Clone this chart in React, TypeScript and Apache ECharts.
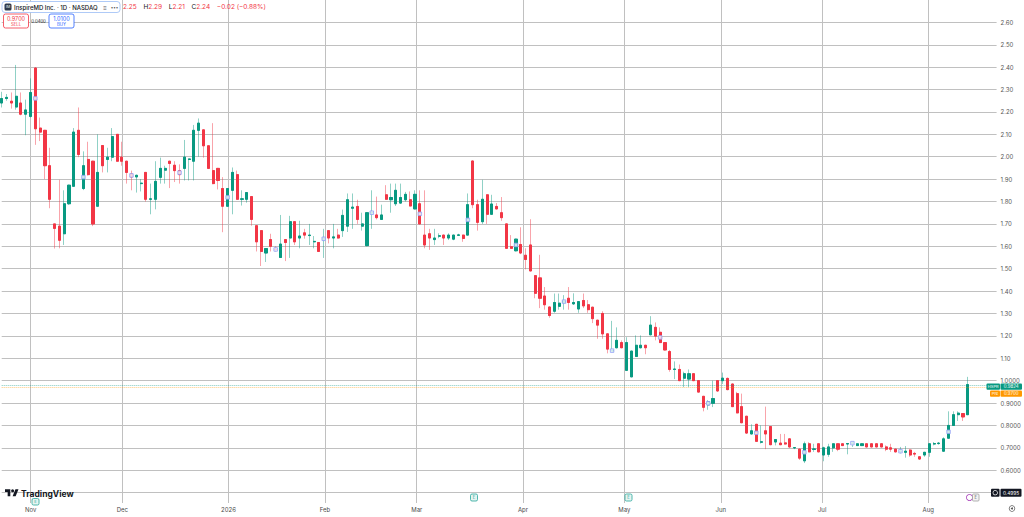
import React, { useEffect, useRef } from "react";
import * as echarts from "echarts";

// month blocks of trading days (the last block is empty space on the right)
const months = ["Oct", "Nov", "Dec", "2026", "Feb", "Mar", "Apr", "May", "Jun", "Jul", "Aug", ""];
const monthBars = [6, 19, 22, 20, 19, 22, 21, 20, 21, 22, 10, 6];

const open = [
  2.24, 2.26, 2.248, 2.222, 2.24, 2.19, 2.18, 2.396, 2.128, 2.118,
  1.96, 1.7, 1.69, 1.656, 1.79, 1.868, 2.118, 1.858, 1.988, 1.98,
  1.779, 2.05, 1.988, 1.998, 2.1, 1.998, 1.98, 1.923, 1.91, 1.88,
  1.93, 1.81, 1.81, 1.908, 1.94, 1.98, 1.962, 1.938, 1.948, 1.988,
  1.98, 2.118, 2.12, 2.049, 1.938, 1.948, 1.858, 1.779, 1.85, 1.92,
  1.81, 1.81, 1.822, 1.692, 1.67, 1.57, 1.63, 1.587, 1.55, 1.63,
  1.637, 1.71, 1.637, 1.66, 1.648, 1.62, 1.617, 1.63, 1.67, 1.637,
  1.65, 1.67, 1.69, 1.77, 1.778, 1.69, 1.603, 1.748, 1.74, 1.72,
  1.83, 1.808, 1.79, 1.793, 1.808, 1.808, 1.767, 1.79, 1.65, 1.656,
  1.63, 1.645, 1.65, 1.637, 1.632, 1.649, 1.65, 1.65, 1.981, 1.786,
  1.71, 1.83, 1.743, 1.778, 1.75, 1.7, 1.598, 1.58, 1.608, 1.56,
  1.606, 1.469, 1.459, 1.378, 1.329, 1.31, 1.332, 1.35, 1.368, 1.343,
  1.32, 1.358, 1.339, 1.328, 1.27, 1.3, 1.209, 1.132, 1.147, 1.17,
  1.046, 1.017, 1.108, 1.147, 1.158, 1.205, 1.238, 1.216, 1.17, 1.13,
  1.05, 1.05, 1.011, 1.007, 1.031, 1.0, 0.93, 0.892, 0.899, 1.0,
  1.0, 1.01, 0.985, 0.942, 0.884, 0.841, 0.762, 0.805, 0.725, 0.776,
  0.795, 0.726, 0.721, 0.722, 0.74, 0.7, 0.694, 0.642, 0.718, 0.693,
  0.718, 0.668, 0.671, 0.7, 0.718, 0.718, 0.717, 0.72, 0.71, 0.71,
  0.718, 0.718, 0.718, 0.718, 0.704, 0.7, 0.694, 0.684, 0.68, 0.69,
  0.675, 0.66, 0.668, 0.68, 0.717, 0.719, 0.685, 0.743, 0.8, 0.848,
  0.853, 0.848,
];

const close = [
  2.26, 2.265, 2.24, 2.27, 2.19, 2.209, 2.287, 2.125, 2.11, 1.96,
  1.81, 1.68, 1.627, 1.79, 1.873, 2.11, 2.01, 1.96, 1.92, 1.7,
  1.93, 1.96, 1.998, 2.09, 1.98, 1.98, 1.93, 1.91, 1.917, 1.882,
  1.81, 1.812, 1.89, 1.948, 1.948, 1.97, 1.938, 1.92, 1.998, 1.99,
  2.118, 2.15, 2.049, 1.948, 1.88, 1.894, 1.779, 1.858, 1.93, 1.81,
  1.812, 1.84, 1.72, 1.62, 1.577, 1.59, 1.6, 1.585, 1.61, 1.617,
  1.71, 1.62, 1.646, 1.65, 1.65, 1.622, 1.577, 1.637, 1.637, 1.642,
  1.637, 1.738, 1.808, 1.775, 1.72, 1.7, 1.75, 1.752, 1.728, 1.74,
  1.81, 1.818, 1.85, 1.818, 1.832, 1.78, 1.832, 1.7, 1.606, 1.637,
  1.637, 1.647, 1.637, 1.65, 1.65, 1.651, 1.635, 1.786, 1.786, 1.707,
  1.81, 1.743, 1.789, 1.767, 1.728, 1.591, 1.591, 1.632, 1.57, 1.541,
  1.49, 1.39, 1.368, 1.339, 1.291, 1.349, 1.346, 1.356, 1.349, 1.349,
  1.353, 1.334, 1.317, 1.277, 1.248, 1.209, 1.141, 1.136, 1.18, 1.147,
  1.17, 1.132, 1.158, 1.158, 1.147, 1.248, 1.199, 1.17, 1.137, 1.05,
  1.052, 1.0, 1.031, 1.031, 1.0, 0.949, 0.881, 0.906, 0.92, 0.954,
  1.011, 0.96, 0.884, 0.856, 0.812, 0.766, 0.776, 0.729, 0.727, 0.762,
  0.714, 0.737, 0.714, 0.717, 0.704, 0.701, 0.654, 0.718, 0.682, 0.695,
  0.682, 0.7, 0.704, 0.718, 0.694, 0.71, 0.719, 0.722, 0.718, 0.718,
  0.704, 0.704, 0.704, 0.704, 0.694, 0.694, 0.682, 0.686, 0.685, 0.668,
  0.672, 0.65, 0.68, 0.718, 0.719, 0.721, 0.74, 0.8, 0.848, 0.855,
  0.838, 0.9824,
];

const low = [
  2.22, 2.25, 2.215, 2.21, 2.185, 2.096, 2.175, 2.053, 2.07, 1.9,
  1.77, 1.59, 1.591, 1.606, 1.785, 1.866, 1.998, 1.851, 1.916, 1.69,
  1.777, 1.93, 1.93, 1.98, 1.978, 1.96, 1.88, 1.85, 1.84, 1.845,
  1.8, 1.743, 1.765, 1.88, 1.88, 1.86, 1.887, 1.88, 1.894, 1.894,
  1.894, 2.0, 1.996, 1.945, 1.877, 1.854, 1.663, 1.777, 1.743, 1.808,
  1.782, 1.795, 1.692, 1.577, 1.512, 1.53, 1.577, 1.577, 1.548, 1.534,
  1.548, 1.606, 1.591, 1.634, 1.606, 1.591, 1.575, 1.548, 1.613, 1.591,
  1.634, 1.642, 1.664, 1.678, 1.7, 1.67, 1.6, 1.678, 1.72, 1.718,
  1.808, 1.75, 1.78, 1.79, 1.8, 1.778, 1.765, 1.698, 1.591, 1.584,
  1.606, 1.636, 1.606, 1.628, 1.627, 1.646, 1.62, 1.648, 1.77, 1.67,
  1.7, 1.7, 1.74, 1.765, 1.714, 1.589, 1.589, 1.577, 1.565, 1.497,
  1.488, 1.368, 1.324, 1.317, 1.281, 1.303, 1.317, 1.317, 1.317, 1.338,
  1.303, 1.324, 1.303, 1.257, 1.187, 1.187, 1.122, 1.13, 1.144, 1.145,
  1.043, 1.015, 1.106, 1.144, 1.118, 1.202, 1.18, 1.168, 1.135, 1.04,
  1.007, 0.998, 0.971, 0.971, 0.998, 0.947, 0.863, 0.87, 0.882, 0.95,
  0.985, 0.957, 0.882, 0.854, 0.81, 0.762, 0.76, 0.727, 0.719, 0.694,
  0.712, 0.711, 0.712, 0.714, 0.7, 0.694, 0.646, 0.632, 0.68, 0.682,
  0.68, 0.64, 0.66, 0.682, 0.685, 0.708, 0.671, 0.704, 0.708, 0.708,
  0.702, 0.702, 0.702, 0.702, 0.685, 0.682, 0.679, 0.675, 0.656, 0.66,
  0.66, 0.646, 0.66, 0.66, 0.711, 0.714, 0.682, 0.741, 0.798, 0.82,
  0.82, 0.846,
];

const high = [
  2.29, 2.28, 2.287, 2.41, 2.287, 2.255, 2.35, 2.4, 2.175, 2.12,
  2.04, 1.7, 1.897, 1.85, 1.875, 2.128, 2.22, 2.024, 2.067, 1.982,
  2.1, 2.052, 2.04, 2.128, 2.1, 2.067, 1.982, 1.938, 1.92, 1.9,
  1.932, 1.88, 1.98, 1.996, 1.96, 1.982, 1.98, 1.966, 2.075, 1.992,
  2.142, 2.171, 2.122, 2.05, 2.15, 1.95, 1.909, 1.86, 1.952, 1.938,
  1.85, 1.842, 1.824, 1.694, 1.672, 1.591, 1.656, 1.6, 1.74, 1.632,
  1.736, 1.712, 1.714, 1.678, 1.7, 1.646, 1.619, 1.678, 1.672, 1.7,
  1.678, 1.764, 1.836, 1.836, 1.808, 1.75, 1.752, 1.85, 1.822, 1.786,
  1.873, 1.88, 1.88, 1.88, 1.843, 1.845, 1.85, 1.85, 1.85, 1.678,
  1.678, 1.658, 1.652, 1.658, 1.652, 1.656, 1.652, 1.836, 1.983, 1.808,
  1.897, 1.832, 1.83, 1.793, 1.82, 1.702, 1.65, 1.634, 1.685, 1.591,
  1.721, 1.471, 1.562, 1.418, 1.331, 1.389, 1.389, 1.382, 1.418, 1.39,
  1.355, 1.389, 1.36, 1.33, 1.272, 1.31, 1.211, 1.267, 1.238, 1.18,
  1.194, 1.134, 1.202, 1.202, 1.16, 1.288, 1.26, 1.238, 1.172, 1.137,
  1.086, 1.072, 1.04, 1.05, 1.033, 1.002, 0.932, 0.913, 1.0, 1.002,
  1.036, 1.014, 0.987, 0.95, 0.942, 0.843, 0.805, 0.807, 0.8, 0.884,
  0.797, 0.739, 0.762, 0.762, 0.743, 0.703, 0.696, 0.728, 0.725, 0.718,
  0.72, 0.705, 0.718, 0.72, 0.72, 0.721, 0.72, 0.726, 0.72, 0.72,
  0.72, 0.72, 0.72, 0.72, 0.711, 0.718, 0.696, 0.704, 0.708, 0.694,
  0.682, 0.662, 0.682, 0.72, 0.726, 0.726, 0.747, 0.863, 0.863, 0.863,
  0.855, 1.017,
];

// bars carrying the small hollow blue square marker
const markerBars = [7, 17, 27, 37, 47, 57, 67, 77, 87, 97, 107, 117, 127, 137, 147, 157, 167, 177, 187, 197];

const lastPrice = 0.9824;
const prePrice = 0.97;
const lineLevel = 0.4995;

const UP = "#089981";
const DOWN = "#f23645";
const GRID = "#c0c0c0";
const FONT = "Inter, 'Noto Sans', sans-serif";

echarts.graphic.registerShape(
  "tvlogo",
  echarts.graphic.extendPath(
    "M14 22H7V11H0V4h14v18z M28 22h-8l7.5-18h8L28 22z M24 8a4 4 0 1 1-8 0a4 4 0 1 1 8 0z",
    {}
  )
);

const categories: string[] = [];
months.forEach((m, i) => {
  for (let k = 0; k < monthBars[i]; k++) categories.push(`${m}|${k}`);
});
const isMonthStart = (_: number, v: string) => {
  const [m, k] = v.split("|");
  return k === "0" && m !== "" && m !== "Oct";
};

const rect = (x: number, y: number, w: number, h: number, fill: string, stroke?: string, r = 1.5) => ({
  type: "rect",
  z: 100,
  silent: true,
  shape: { x, y, width: w, height: h, r },
  style: { fill, stroke: stroke || null, lineWidth: 0.8 },
});
const text = (x: number, y: number, t: string, size: number, fill: string, align = "center", weight: any = "normal") => ({
  type: "text",
  z: 101,
  silent: true,
  x,
  y,
  style: { text: t, fontSize: size, fill, align, verticalAlign: "middle", fontFamily: FONT, fontWeight: weight },
});

export default function App() {
  const ref = useRef<HTMLDivElement | null>(null);

  useEffect(() => {
    if (!ref.current) return;
    const chart = echarts.init(ref.current, undefined, { renderer: "svg" });

    const wicks = open.map((o, i) => [o, close[i], low[i], high[i]]);
    const bodies = open.map((o, i) => [o, close[i], Math.min(o, close[i]), Math.max(o, close[i])]);
    const markers = markerBars.map((i) => [i, (open[i] + close[i]) / 2]);

    chart.setOption({
      animation: false,
      textStyle: { fontFamily: FONT },
      grid: [
        { left: 1.7, right: 23.3, top: -16, bottom: 2 },
        { left: 1.7, right: 23.3, top: 0, bottom: 14 },
      ],
      xAxis: [
        { type: "category", gridIndex: 0, data: categories, boundaryGap: false, show: false },
        {
          type: "category",
          gridIndex: 1,
          data: categories,
          boundaryGap: false,
          axisLine: { show: false },
          axisTick: { show: false },
          axisLabel: {
            interval: isMonthStart,
            formatter: (v: string) => v.split("|")[0],
            fontSize: 6,
            color: "#4a4a4a",
            margin: 3,
          },
          splitLine: { show: true, interval: isMonthStart, lineStyle: { color: GRID, width: 1 } },
        },
      ],
      yAxis: [
        {
          type: "value",
          gridIndex: 0,
          position: "right",
          min: 0.4,
          max: 2.7,
          interval: 0.1,
          axisLine: { show: false },
          axisTick: { show: false },
          axisLabel: {
            fontSize: 6,
            color: "#555",
            margin: 4,
            formatter: (v: number) => (v < 0.55 || v > 2.65 ? "" : v >= 1.05 ? v.toFixed(2) : v.toFixed(4)),
          },
          splitLine: { show: true, showMinLine: false, showMaxLine: false, lineStyle: { color: GRID, width: 1 } },
        },
        { type: "value", gridIndex: 1, show: false, splitLine: { show: false } },
      ],
      series: [
        {
          name: "wicks",
          type: "candlestick",
          xAxisIndex: 0,
          yAxisIndex: 0,
          clip: false,
          barWidth: "54%",
          silent: true,
          data: wicks,
          itemStyle: {
            color: "rgba(8,153,129,0.45)",
            color0: "rgba(242,54,69,0.45)",
            borderColor: "rgba(8,153,129,0.45)",
            borderColor0: "rgba(242,54,69,0.45)",
            borderWidth: 1,
          },
        },
        {
          name: "IHSPR",
          type: "candlestick",
          xAxisIndex: 0,
          yAxisIndex: 0,
          clip: false,
          barWidth: "54%",
          silent: true,
          data: bodies,
          itemStyle: { color: UP, color0: DOWN, borderColor: UP, borderColor0: DOWN, borderWidth: 1 },
          markLine: {
            silent: true,
            symbol: "none",
            label: { show: false },
            data: [
              { yAxis: lastPrice, lineStyle: { color: UP, type: "dotted", width: 1, opacity: 0.5 } },
              { yAxis: prePrice, lineStyle: { color: "#ff9800", type: "dotted", width: 1, opacity: 0.5 } },
            ],
          },
        },
        {
          name: "markers",
          type: "scatter",
          xAxisIndex: 0,
          yAxisIndex: 0,
          silent: true,
          z: 5,
          symbol: "rect",
          symbolSize: 3.5,
          data: markers,
          itemStyle: { color: "#ffffff", borderColor: "#8f9ff5", borderWidth: 1 },
        },
      ],
    });

    const y = (v: number) => chart.convertToPixel({ yAxisIndex: 0 }, v) as number;
    const yl = y(lastPrice) + 2;
    const yp = yl + 7;
    const y5 = y(lineLevel);

    chart.setOption({
      graphic: [
        // header
        rect(2, 1.5, 118, 11, "#ffffff", "#9bbcf5", 3),
        rect(4.5, 3.5, 7, 7, "#2f3b4c", undefined, 1.5),
        text(8, 7, "IM", 3.5, "#ffffff"),
        text(14, 7.2, "InspireMD Inc. · 1D · NASDAQ", 6, "#131722", "left", 500),
        text(105, 7.2, "≡", 6, "#555"),
        text(114.5, 7, "•••", 4.5, "#555"),
        {
          type: "text",
          z: 101,
          silent: true,
          x: 123,
          y: 7.2,
          style: {
            text: "{v|2.25}  {k|H}{v|2.29}  {k|L}{v|2.21}  {k|C}{v|2.24}  {v|−0.02 (−0.88%)}",
            verticalAlign: "middle",
            rich: {
              v: { fontSize: 6.5, fill: DOWN, fontFamily: FONT },
              k: { fontSize: 6.5, fill: "#131722", fontFamily: FONT },
            },
          },
        },
        rect(3.5, 14, 25, 14, "#ffffff", DOWN, 2),
        text(16, 18.5, "0.9700", 5.5, DOWN),
        text(16, 24, "SELL", 4.3, DOWN),
        text(38.5, 21, "0.0400", 4.3, "#131722"),
        rect(49, 14, 25, 14, "#ffffff", "#2962ff", 2),
        text(61.5, 18.5, "1.0100", 5.5, "#2962ff"),
        text(61.5, 24, "BUY", 4.3, "#2962ff"),
        // price axis tags
        rect(986.5, yl - 3.2, 13.5, 6.4, UP, undefined, 1),
        text(993.2, yl, "HSPR", 4, "#ffffff"),
        rect(1000.5, yl - 3.2, 21.5, 6.4, UP, undefined, 1),
        text(1011.2, yl, "0.9824", 4.4, "#ffffff"),
        rect(990, yp - 3.2, 10, 6.4, "#ff9800", undefined, 1),
        text(995, yp, "Pre", 4, "#ffffff"),
        rect(1000.5, yp - 3.2, 21.5, 6.4, "#ff9800", undefined, 1),
        text(1011.2, yp, "0.9700", 4.4, "#ffffff"),
        rect(991, y5 - 4, 8.5, 8, "#131722", undefined, 1),
        {
          type: "ring",
          z: 102,
          silent: true,
          shape: { cx: 995.2, cy: y5, r: 2.6, r0: 1.9 },
          style: { fill: "#ffffff" },
        },
        rect(1000.5, y5 - 4, 21, 8, "#131722", undefined, 1),
        text(1011, y5, "0.4995", 4.8, "#ffffff"),
        // TradingView logo
        { type: "tvlogo", z: 100, silent: true, x: 5, y: 487.8, scaleX: 0.38, scaleY: 0.38, style: { fill: "#131722" } },
        text(21, 494, "TradingView", 8.5, "#131722", "left", "bold"),
        // event badges
        rect(32, 498.5, 7, 6.5, "#e6f4f1", "#26a69a", 1.5),
        text(35.5, 501.8, "E", 4, "#26a69a"),
        rect(470.5, 494, 7, 7, "#e6f4f1", "#26a69a", 1.5),
        text(474, 497.6, "E", 4.3, "#26a69a"),
        rect(625, 494, 7, 7, "#e6f4f1", "#26a69a", 1.5),
        text(628.5, 497.6, "E", 4.3, "#26a69a"),
        {
          type: "ring",
          z: 100,
          silent: true,
          shape: { cx: 969.5, cy: 497.5, r: 3.5, r0: 2.7 },
          style: { fill: "#ab47bc" },
        },
        rect(972.5, 494, 6.5, 7, "#f3f3f3", "#9e9e9e", 1),
        text(975.8, 497.6, "E", 4.3, "#555"),
        // settings icon
        {
          type: "ring",
          z: 100,
          silent: true,
          shape: { cx: 1012, cy: 508.5, r: 3.2, r0: 2.5 },
          style: { fill: "#555" },
        },
        {
          type: "circle",
          z: 100,
          silent: true,
          shape: { cx: 1012, cy: 508.5, r: 1 },
          style: { fill: "#555" },
        },
      ],
    });

    return () => {
      chart.dispose();
    };
  }, []);

  return (
    <div
      ref={ref}
      style={{ position: "fixed", left: 0, top: 0, width: 1024, height: 517, background: "#ffffff" }}
    />
  );
}
